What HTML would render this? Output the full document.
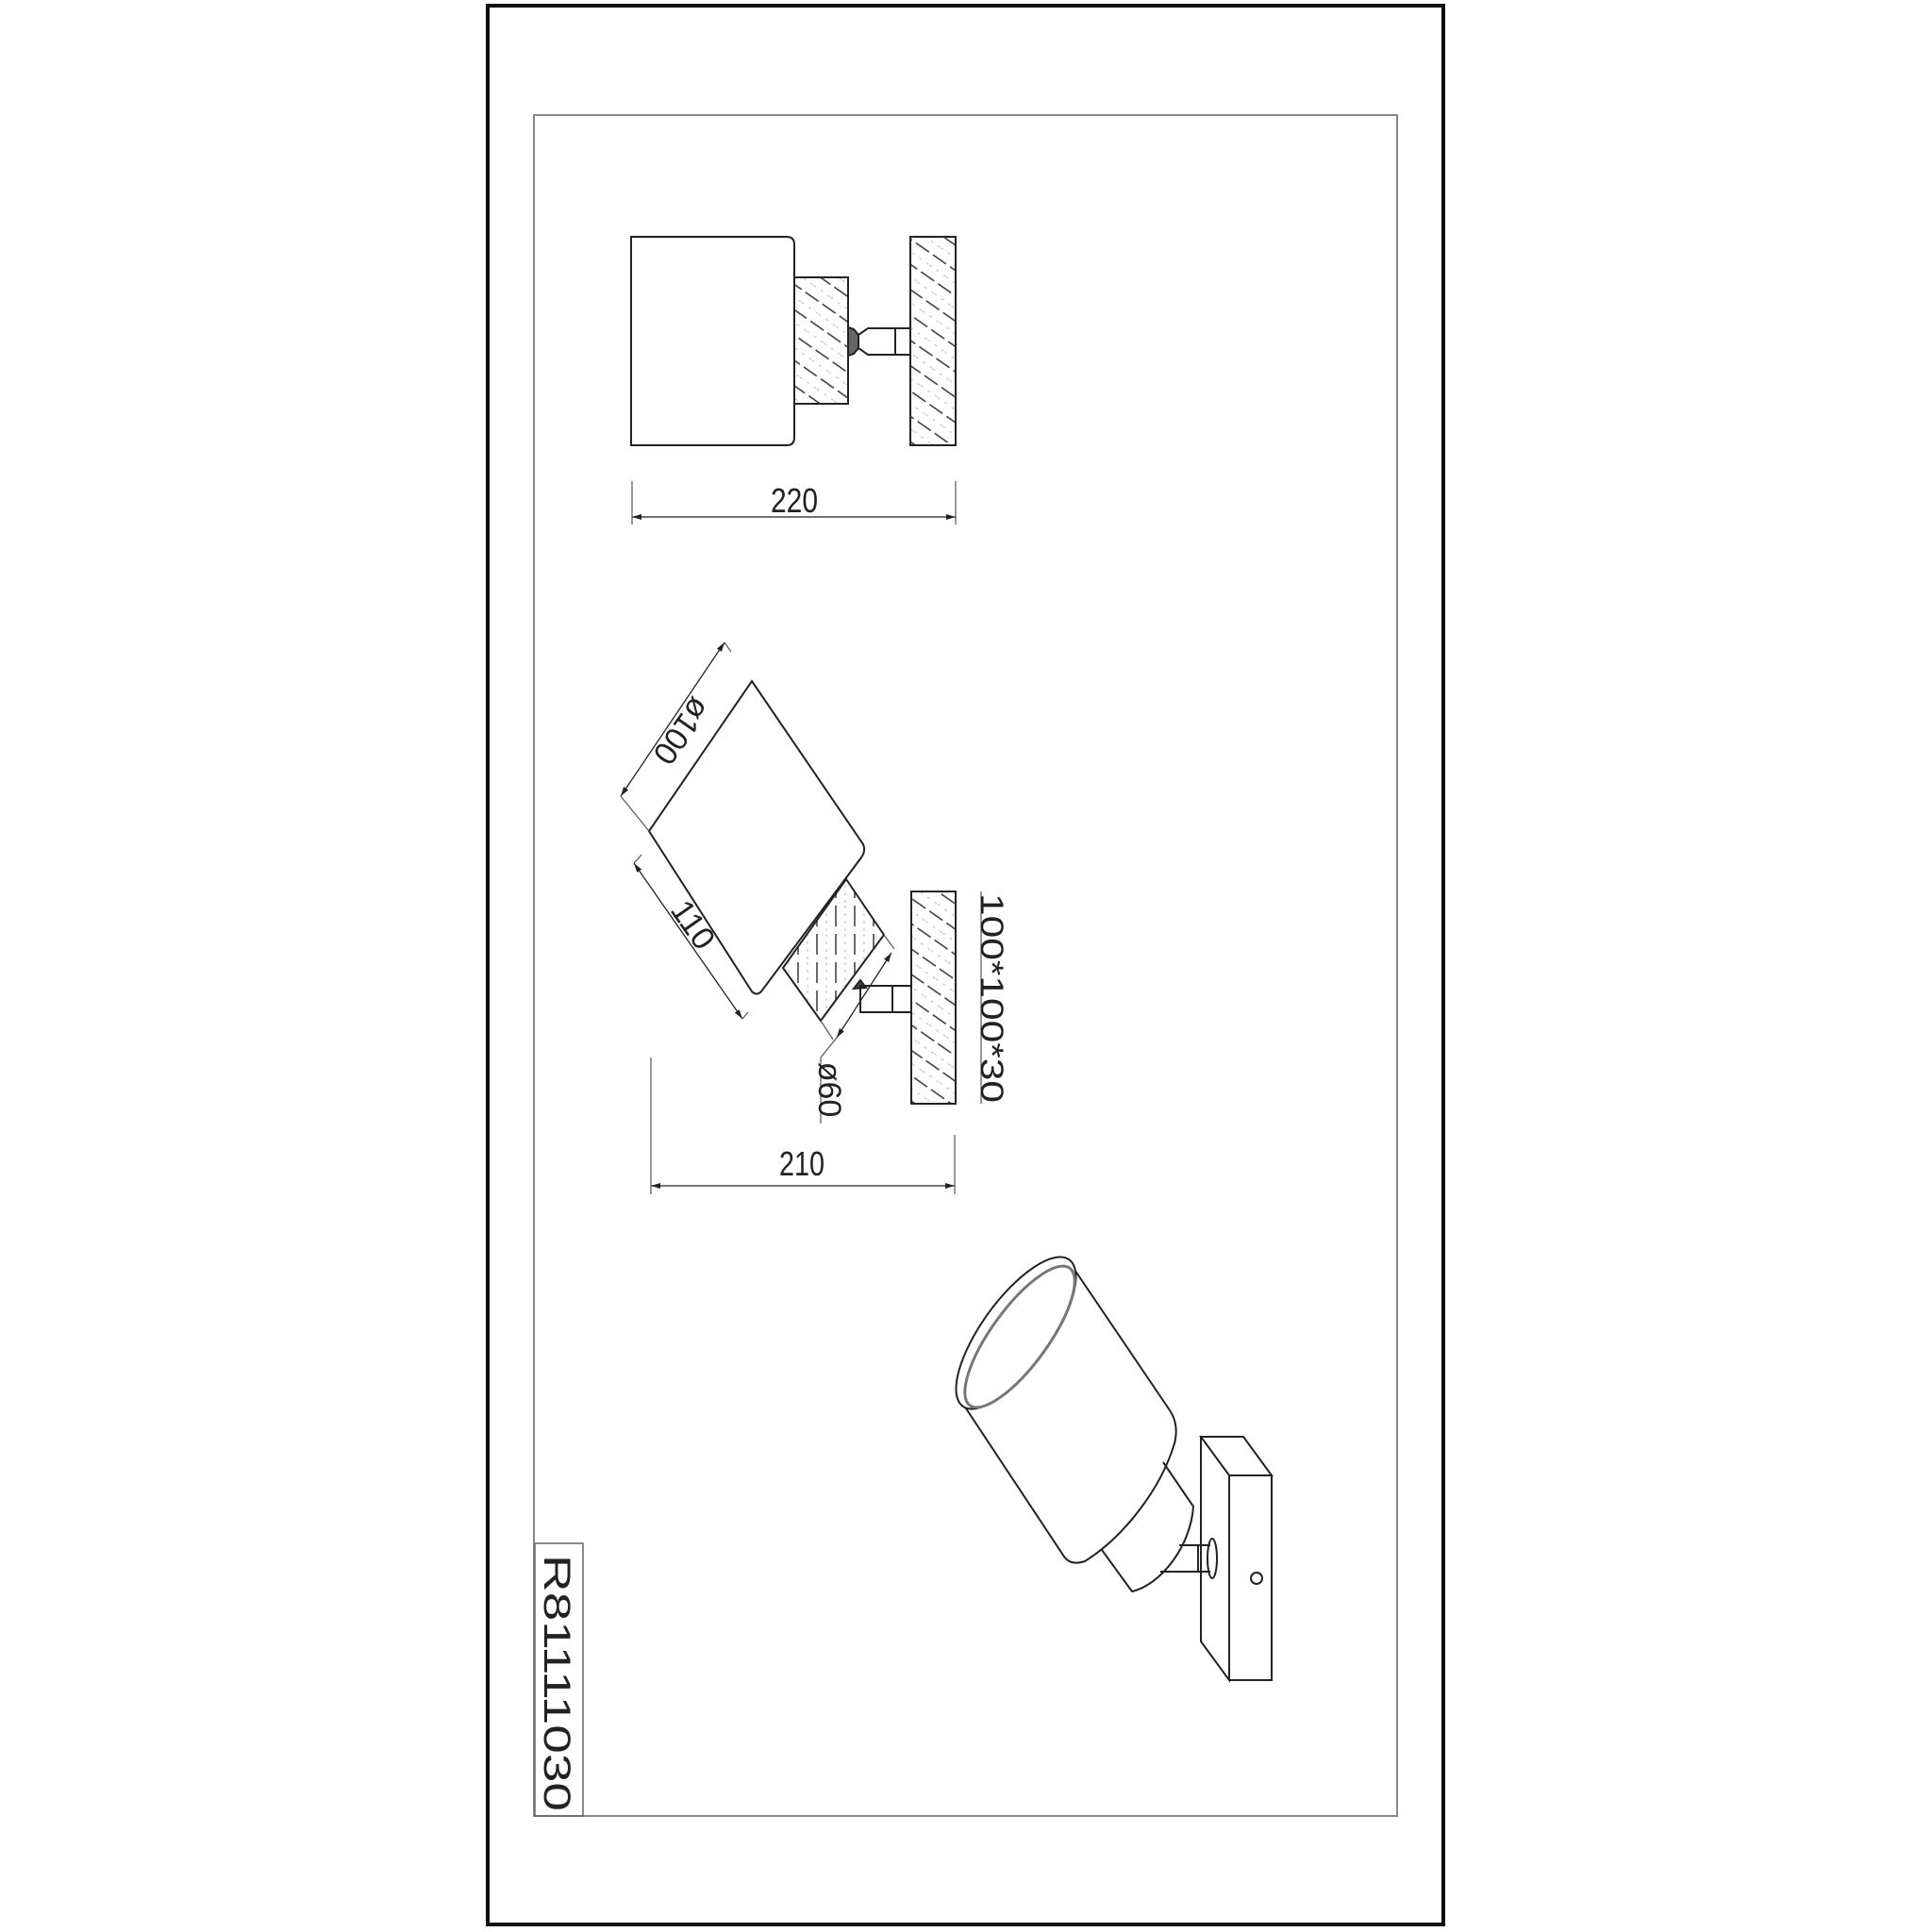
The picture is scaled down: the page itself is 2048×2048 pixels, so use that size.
<!DOCTYPE html>
<html><head><meta charset="utf-8"><style>
html,body{margin:0;padding:0;background:#fff;}
svg{display:block;}
text{font-family:"Liberation Sans","DejaVu Sans",sans-serif;fill:#222;}
</style></head><body>
<svg width="2048" height="2048" viewBox="0 0 2048 2048" xmlns="http://www.w3.org/2000/svg">
<defs>
<pattern id="h1" patternUnits="userSpaceOnUse" width="22" height="22" patternTransform="rotate(35)">
<line x1="0" y1="6" x2="22" y2="6" stroke="#333" stroke-width="1.6" stroke-dasharray="14 5"/>
<line x1="0" y1="17" x2="22" y2="17" stroke="#bbb" stroke-width="1" stroke-dasharray="3 6"/>
</pattern>
<pattern id="h2" patternUnits="userSpaceOnUse" width="20" height="30">
<line x1="6" y1="0" x2="6" y2="22" stroke="#444" stroke-width="1.6"/>
<line x1="16" y1="0" x2="16" y2="30" stroke="#bbb" stroke-width="1" stroke-dasharray="3 5"/>
</pattern>
<marker id="ar" viewBox="0 0 10 6" refX="10" refY="3" markerWidth="10" markerHeight="6" orient="auto-start-reverse" markerUnits="userSpaceOnUse">
<path d="M0,0 L10,3 L0,6 Z" fill="#222"/></marker>
</defs>
<rect width="2048" height="2048" fill="#fff"/>
<rect x="517" y="6" width="1013" height="2034" fill="none" stroke="#111" stroke-width="4"/>
<rect x="566" y="122" width="915" height="1803" fill="none" stroke="#888" stroke-width="2"/>
<rect x="567" y="1636" width="51" height="289" fill="none" stroke="#666" stroke-width="1.5"/>
<text x="0" y="0" font-size="40" textLength="272" lengthAdjust="spacingAndGlyphs" transform="translate(577,1648) rotate(90)">R81111030</text>

<g fill="none" stroke="#222" stroke-width="2">
<!-- TOP VIEW -->
<path d="M669,251 H834 Q842,251 842,259 V464 Q842,472 834,472 H669 Z"/>
<rect x="842" y="294" width="57" height="134" fill="url(#h1)"/>
<path d="M899,347 L905,349 L910,355 V369 L905,375 L899,377 Z" fill="#666"/>
<path d="M910,355 L920,348 H965 V376 H920 L910,369"/>
<line x1="949" y1="349" x2="949" y2="375"/>
<rect x="965" y="251" width="48" height="221" fill="url(#h1)"/>
<g stroke-width="1.2" stroke="#555">
<line x1="670" y1="510" x2="670" y2="556"/>
<line x1="1013" y1="510" x2="1013" y2="556"/>
</g>
<line x1="670" y1="548" x2="1013" y2="548" stroke-width="1.3" marker-start="url(#ar)" marker-end="url(#ar)"/>

<!-- SIDE VIEW angled -->
<path d="M797,722 L915,895 Q918,902 913,909 L807,1051 Q802,1056 797,1051 L688,881 Z"/>
<path d="M897,932 L937,991 L870,1082 L830,1026 Z" fill="url(#h2)"/>
<path d="M905,1048 L912,1039 L918,1047 Z" fill="#444"/>
<path d="M912,1045 H966 V1073 H912 Z"/>
<line x1="946" y1="1045" x2="946" y2="1073"/>
<rect x="966" y="945" width="47" height="225" fill="url(#h1)"/>
<g stroke-width="1.2" stroke="#555">
<line x1="768" y1="681" x2="775" y2="691"/>
<line x1="658" y1="844" x2="688" y2="881"/>
<line x1="937" y1="991" x2="948" y2="1006"/>
<line x1="870" y1="1082" x2="883" y2="1102"/>
<line x1="672" y1="915" x2="680" y2="906"/>
<line x1="787" y1="1080" x2="793" y2="1073"/>
<line x1="887" y1="1100" x2="870" y2="1121"/>
<line x1="870" y1="1121" x2="870" y2="1191"/>
<line x1="1040" y1="945" x2="1040" y2="1170"/>
<line x1="690" y1="1121" x2="690" y2="1266"/>
<line x1="1012" y1="1203" x2="1012" y2="1266"/>
</g>
<line x1="768" y1="681" x2="658" y2="844" stroke-width="1.3" marker-start="url(#ar)" marker-end="url(#ar)"/>
<line x1="672" y1="915" x2="787" y2="1080" stroke-width="1.3" marker-start="url(#ar)" marker-end="url(#ar)"/>
<line x1="945" y1="1010" x2="887" y2="1100" stroke-width="1.3" marker-start="url(#ar)" marker-end="url(#ar)"/>
<line x1="690" y1="1257" x2="1012" y2="1257" stroke-width="1.3" marker-start="url(#ar)" marker-end="url(#ar)"/>

<!-- PERSPECTIVE -->
<path d="M1133,1337 L1240,1495 Q1250,1510 1245,1530 C1230,1580 1190,1630 1150,1655 Q1135,1660 1128,1650 L1022,1490" fill="#fff"/>
<path d="M1233,1550 L1265,1597 C1262,1640 1230,1680 1200,1687 L1168,1643"/>
<ellipse cx="1077" cy="1413" rx="96" ry="36" transform="rotate(-54 1077 1413)" fill="#fff"/>
<ellipse cx="1081" cy="1417" rx="90" ry="30" transform="rotate(-54 1081 1417)" stroke="#777" stroke-width="3"/>
<path d="M1250,1638 H1283 M1230,1666 H1283"/>
<line x1="1270" y1="1638" x2="1270" y2="1666"/>
<ellipse cx="1285" cy="1652" rx="5" ry="21"/>
<path d="M1273,1523 H1318 L1348,1564 H1303 Z"/>
<path d="M1273,1523 V1740 L1303,1781 V1564"/>
<path d="M1348,1564 V1781 H1303"/>
<circle cx="1332" cy="1673" r="6"/>
</g>

<text x="842" y="543" font-size="36" text-anchor="middle" textLength="50" lengthAdjust="spacingAndGlyphs">220</text>
<text x="850" y="1246" font-size="36" text-anchor="middle" textLength="48" lengthAdjust="spacingAndGlyphs">210</text>
<text font-size="34" text-anchor="middle" transform="translate(723,775) rotate(125)" dy="12">ø100</text>
<text font-size="34" text-anchor="middle" transform="translate(735,980) rotate(55)" dy="12">110</text>
<text font-size="34" text-anchor="middle" transform="translate(880,1155) rotate(90)" dy="12">ø60</text>
<text font-size="34" text-anchor="middle" textLength="222" lengthAdjust="spacingAndGlyphs" transform="translate(1052,1058) rotate(90)" dy="12">100*100*30</text>
</svg>
</body></html>
